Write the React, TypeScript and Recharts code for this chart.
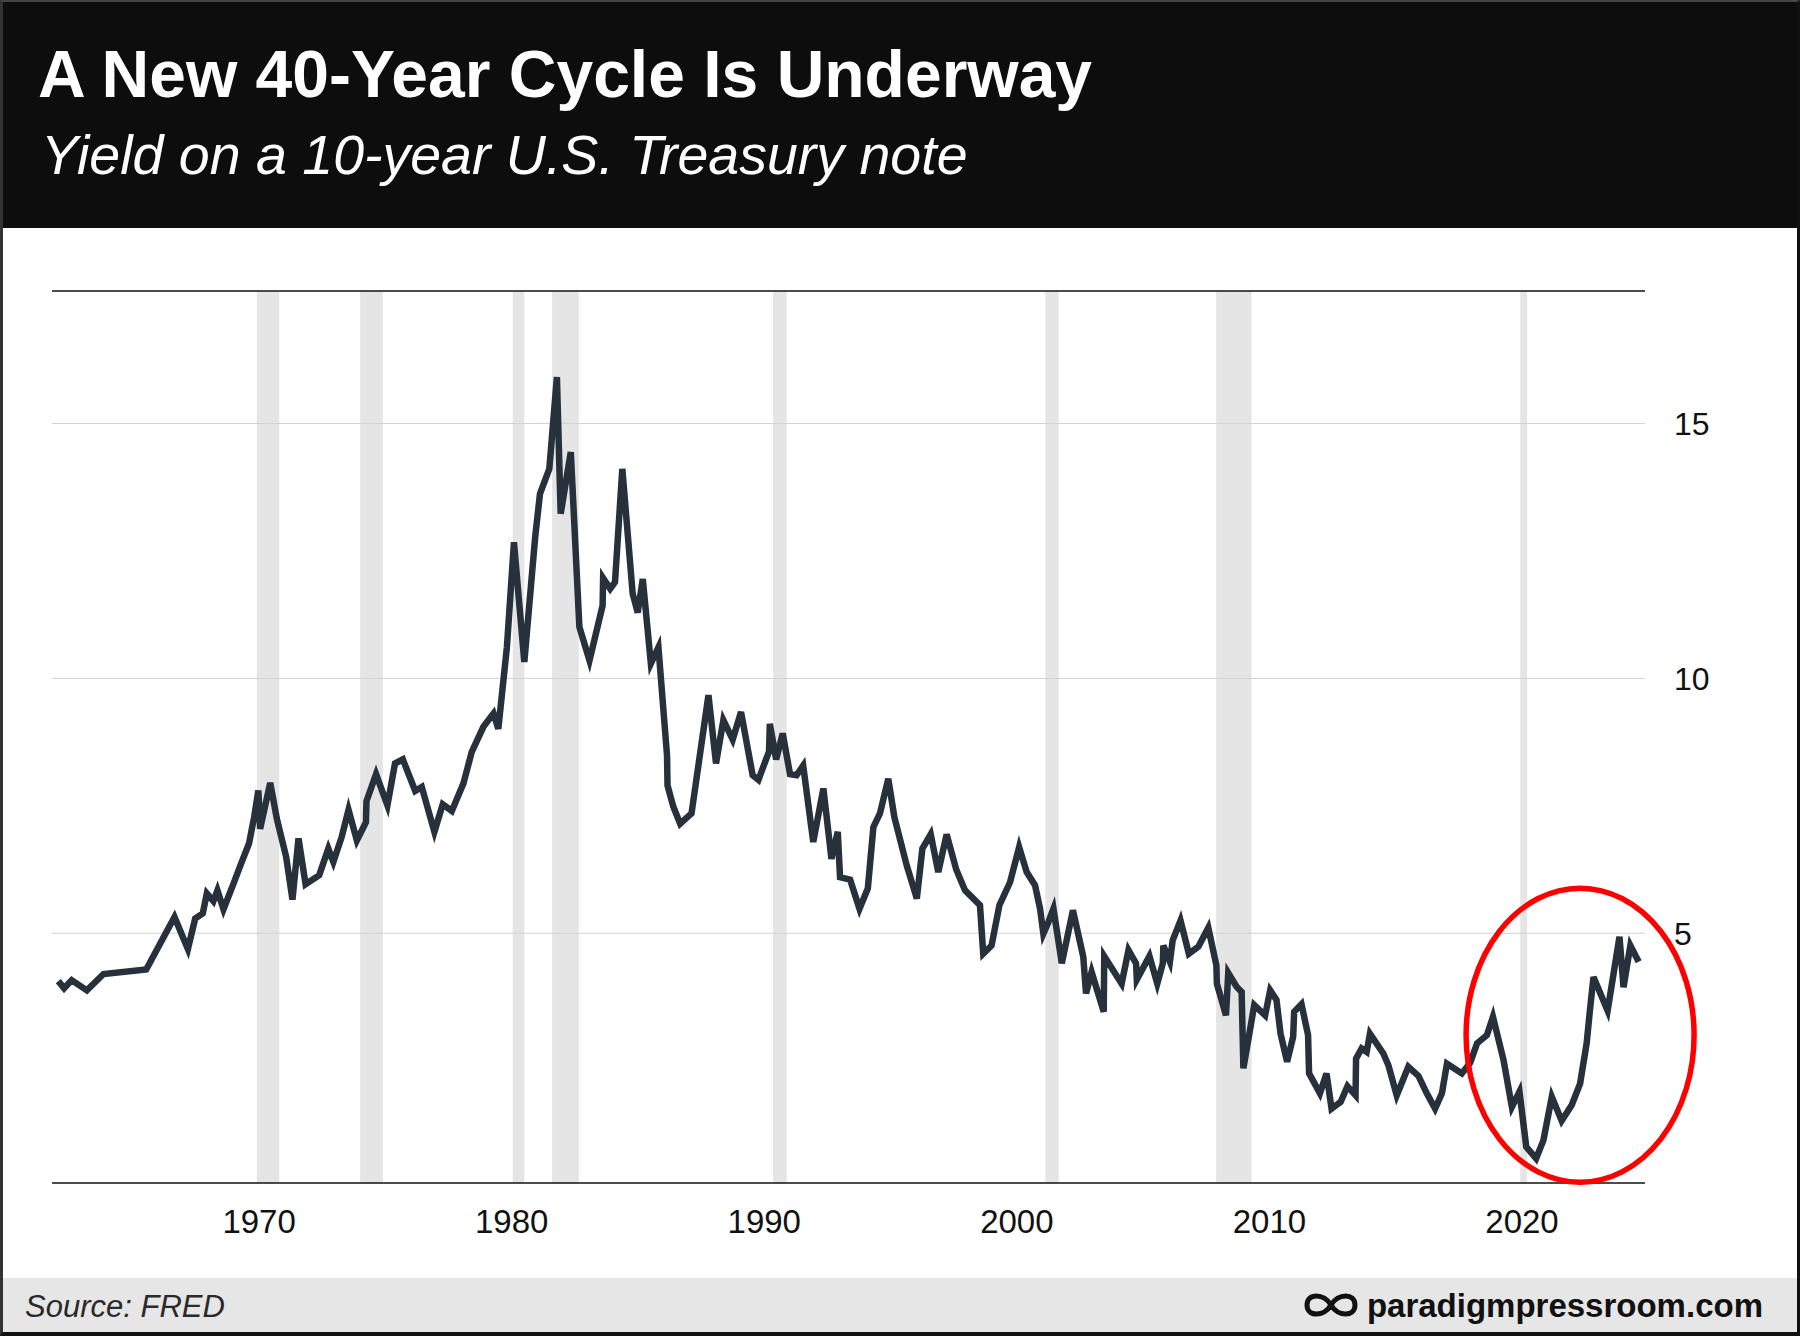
import {
    LineChart,
    Line,
    XAxis,
    YAxis,
    ReferenceArea,
    ReferenceLine,
    ReferenceDot,
} from 'recharts'

// 10-year Treasury yield (fractional year, percent)
const years = [
    1962.05, 1962.28, 1962.58, 1963.18, 1963.84, 1965.53, 1966.65, 1967.18, 1967.47, 1967.77,
    1967.93, 1968.19, 1968.35, 1968.59, 1968.96, 1969.29, 1969.6, 1969.8, 1969.97, 1970.04,
    1970.44, 1970.7, 1971.07, 1971.32, 1971.56, 1971.84, 1972.38, 1972.74, 1972.94, 1973.27,
    1973.54, 1973.87, 1974.23, 1974.25, 1974.63, 1975.08, 1975.38, 1975.69, 1976.18, 1976.44,
    1976.94, 1977.27, 1977.63, 1978.09, 1978.42, 1978.88, 1979.28, 1979.47, 1979.81, 1980.09,
    1980.5, 1980.93, 1981.12, 1981.49, 1981.79, 1981.94, 1982.34, 1982.68, 1983.08, 1983.6,
    1983.62, 1983.9, 1984.09, 1984.38, 1984.79, 1984.99, 1985.19, 1985.51, 1985.81, 1986.15,
    1986.17, 1986.4, 1986.67, 1987.12, 1987.79, 1988.09, 1988.38, 1988.75, 1989.08, 1989.54,
    1989.77, 1990.19, 1990.22, 1990.47, 1990.73, 1991.02, 1991.28, 1991.54, 1991.94, 1992.34,
    1992.66, 1992.91, 1993.0, 1993.4, 1993.77, 1994.1, 1994.32, 1994.58, 1994.91, 1995.15,
    1995.64, 1996.04, 1996.26, 1996.59, 1996.89, 1997.22, 1997.6, 1997.95, 1998.54, 1998.67,
    1999.0, 1999.31, 1999.73, 2000.09, 2000.39, 2000.72, 2000.92, 2001.05, 2001.25, 2001.45,
    2001.78, 2002.22, 2002.63, 2002.74, 2002.96, 2003.44, 2003.46, 2004.15, 2004.42, 2004.72,
    2004.75, 2005.25, 2005.56, 2005.78, 2005.8, 2006.06, 2006.17, 2006.48, 2006.81, 2007.19,
    2007.58, 2007.9, 2007.92, 2008.28, 2008.37, 2008.7, 2008.9, 2008.97, 2009.4, 2009.83,
    2010.03, 2010.28, 2010.44, 2010.7, 2010.94, 2010.98, 2011.27, 2011.53, 2011.57, 2012.0,
    2012.26, 2012.46, 2012.82, 2013.09, 2013.41, 2013.43, 2013.65, 2013.85, 2013.98, 2014.51,
    2014.71, 2015.04, 2015.5, 2015.9, 2016.23, 2016.56, 2016.83, 2017.03, 2017.62, 2017.95,
    2018.22, 2018.61, 2018.85, 2019.27, 2019.6, 2019.9, 2020.17, 2020.56, 2020.85, 2021.18,
    2021.57, 2021.97, 2022.3, 2022.56, 2022.69, 2022.83, 2023.39, 2023.86, 2024.02, 2024.29,
    2024.62,
]

const yields = [
    4.06, 3.92, 4.08, 3.88, 4.2, 4.29, 5.32, 4.69, 5.29, 5.39,
    5.78, 5.63, 5.84, 5.47, 5.94, 6.37, 6.76, 7.27, 7.8, 7.05,
    7.95, 7.25, 6.5, 5.66, 6.86, 5.96, 6.14, 6.66, 6.4, 6.89,
    7.42, 6.82, 7.18, 7.59, 8.12, 7.51, 8.33, 8.41, 7.79, 7.87,
    6.99, 7.53, 7.4, 7.94, 8.56, 9.05, 9.31, 9.01, 10.61, 12.67,
    10.32, 12.77, 13.62, 14.11, 15.91, 13.23, 14.44, 11.01, 10.35, 11.43,
    11.97, 11.76, 11.89, 14.11, 11.66, 11.29, 11.95, 10.29, 10.61, 8.49,
    7.9, 7.48, 7.15, 7.35, 9.67, 8.33, 9.18, 8.8, 9.34, 8.1,
    8.01, 8.57, 9.11, 8.41, 8.92, 8.12, 8.1, 8.29, 6.79, 7.84,
    6.46, 6.99, 6.1, 6.05, 5.48, 5.88, 7.08, 7.35, 8.03, 7.28,
    6.33, 5.68, 6.66, 6.94, 6.2, 6.94, 6.25, 5.84, 5.55, 4.6,
    4.76, 5.55, 6.0, 6.69, 6.2, 5.94, 5.48, 4.99, 5.22, 5.48,
    4.41, 5.45, 4.54, 3.82, 4.24, 3.46, 4.55, 4.01, 4.67, 4.41,
    4.09, 4.55, 4.01, 4.41, 4.76, 4.44, 4.86, 5.25, 4.6, 4.74,
    5.11, 4.37, 4.01, 3.39, 4.22, 3.95, 3.85, 2.35, 3.59, 3.39,
    3.88, 3.69, 3.03, 2.48, 2.97, 3.46, 3.61, 3.0, 2.25, 1.86,
    2.25, 1.56, 1.69, 2.0, 1.82, 2.54, 2.74, 2.67, 3.03, 2.64,
    2.41, 1.82, 2.38, 2.2, 1.86, 1.56, 1.86, 2.44, 2.25, 2.46,
    2.84, 3.0, 3.36, 2.51, 1.59, 1.89, 0.81, 0.58, 0.94, 1.79,
    1.32, 1.63, 2.05, 2.84, 3.49, 4.14, 3.48, 4.93, 3.94, 4.76,
    4.44,
]

// recession shading (start, end)
const recessionStart = [1969.91, 1974.0, 1980.04, 1981.6, 1990.35, 2001.13, 2007.89, 2019.93]
const recessionEnd = [1970.8, 1974.9, 1980.5, 1982.66, 1990.89, 2001.66, 2009.29, 2020.2]

const xTicks = [1970, 1980, 1990, 2000, 2010, 2020]
const yTicks = [5, 10, 15]

const data = years.map((year, i) => ({ year, value: yields[i] }))

const X_MIN = 1961.8
const X_MAX = 2024.87
const Y_MIN = 0.1
const Y_MAX = 17.6

const FONT = '"Liberation Sans", Arial, Helvetica, sans-serif'
const LINE_COLOR = '#27313c'

const InfinityLogo = () => (
    <svg width={60} height={32} viewBox="0 0 60 32">
        <path
            d="M30,16 C23,4 6,4 6,16 C6,28 23,28 30,16 C37,4 54,4 54,16 C54,28 37,28 30,16 Z"
            fill="none"
            stroke="#111"
            strokeWidth={5}
        />
    </svg>
)

const App = () => {
    return (
        <div
            style={{
                position: 'relative',
                width: 1800,
                height: 1336,
                background: '#fff',
                fontFamily: FONT,
                overflow: 'hidden',
            }}
        >
            <style>{`body { margin: 0; }`}</style>

            {/* header */}
            <div
                style={{
                    position: 'absolute',
                    left: 0,
                    top: 0,
                    width: 1800,
                    height: 228,
                    background: '#0d0d0d',
                }}
            />
            <div
                style={{
                    position: 'absolute',
                    left: 38,
                    top: 41,
                    fontSize: 66,
                    lineHeight: '66px',
                    fontWeight: 700,
                    color: '#fff',
                    whiteSpace: 'nowrap',
                }}
            >
                A New 40-Year Cycle Is Underway
            </div>
            <div
                style={{
                    position: 'absolute',
                    left: 41,
                    top: 128,
                    fontSize: 55.5,
                    lineHeight: '55px',
                    fontStyle: 'italic',
                    color: '#fff',
                    whiteSpace: 'nowrap',
                }}
            >
                Yield on a 10-year U.S. Treasury note
            </div>

            {/* chart */}
            <div style={{ position: 'absolute', left: 0, top: 228 }}>
                <LineChart
                    width={1800}
                    height={1050}
                    data={data}
                    margin={{ top: 63, right: 55, left: 52, bottom: 35 }}
                >
                    {recessionStart.map((s, i) => (
                        <ReferenceArea
                            key={`rec-${i}`}
                            x1={s}
                            x2={recessionEnd[i]}
                            y1={Y_MIN}
                            y2={Y_MAX}
                            fill="#e5e5e5"
                            fillOpacity={1}
                            stroke="none"
                        />
                    ))}
                    {yTicks.map((t) => (
                        <ReferenceLine key={`grid-${t}`} y={t} stroke="#d2d2d2" strokeWidth={1} />
                    ))}
                    <ReferenceLine y={Y_MAX} stroke="#111" strokeWidth={1.5} />
                    <XAxis
                        dataKey="year"
                        type="number"
                        domain={[X_MIN, X_MAX]}
                        ticks={xTicks}
                        allowDataOverflow
                        height={60}
                        axisLine={{ stroke: '#111', strokeWidth: 1.5 }}
                        tickLine={false}
                        tickSize={0}
                        tickMargin={27}
                        tick={{ fill: '#111', fontSize: 33, fontFamily: FONT }}
                    />
                    <YAxis
                        orientation="right"
                        type="number"
                        domain={[Y_MIN, Y_MAX]}
                        ticks={yTicks}
                        allowDataOverflow
                        width={100}
                        axisLine={false}
                        tickLine={false}
                        tickSize={0}
                        tickMargin={29}
                        tick={{ fill: '#111', fontSize: 32, fontFamily: FONT }}
                    />
                    <Line
                        type="linear"
                        dataKey="value"
                        stroke={LINE_COLOR}
                        strokeWidth={6.5}
                        dot={false}
                        activeDot={false}
                        isAnimationActive={false}
                    />
                    <ReferenceDot
                        x={2022.3}
                        y={3}
                        ifOverflow="visible"
                        shape={(props: any) => (
                            <ellipse
                                cx={props.cx}
                                cy={props.cy}
                                rx={114}
                                ry={147}
                                fill="none"
                                stroke="#ff0000"
                                strokeWidth={5.5}
                            />
                        )}
                    />
                </LineChart>
            </div>

            {/* footer */}
            <div
                style={{
                    position: 'absolute',
                    left: 0,
                    top: 1278,
                    width: 1800,
                    height: 58,
                    background: '#e6e6e6',
                }}
            />
            <div
                style={{
                    position: 'absolute',
                    left: 25,
                    top: 1291,
                    fontSize: 31,
                    lineHeight: '31px',
                    fontStyle: 'italic',
                    color: '#2a2a2a',
                    whiteSpace: 'nowrap',
                }}
            >
                Source: FRED
            </div>
            <div style={{ position: 'absolute', left: 1301, top: 1289 }}>
                <InfinityLogo />
            </div>
            <div
                style={{
                    position: 'absolute',
                    right: 37,
                    top: 1289,
                    fontSize: 33,
                    lineHeight: '33px',
                    fontWeight: 700,
                    color: '#111',
                    whiteSpace: 'nowrap',
                }}
            >
                paradigmpressroom.com
            </div>

            {/* outer frame */}
            <div
                style={{
                    position: 'absolute',
                    left: 0,
                    top: 0,
                    width: 1800,
                    height: 1336,
                    boxSizing: 'border-box',
                    borderLeft: '3px solid #333',
                    borderRight: '3px solid #111',
                    borderTop: '2px solid #444',
                    borderBottom: '4px solid #111',
                    pointerEvents: 'none',
                }}
            />
        </div>
    )
}

export default App
